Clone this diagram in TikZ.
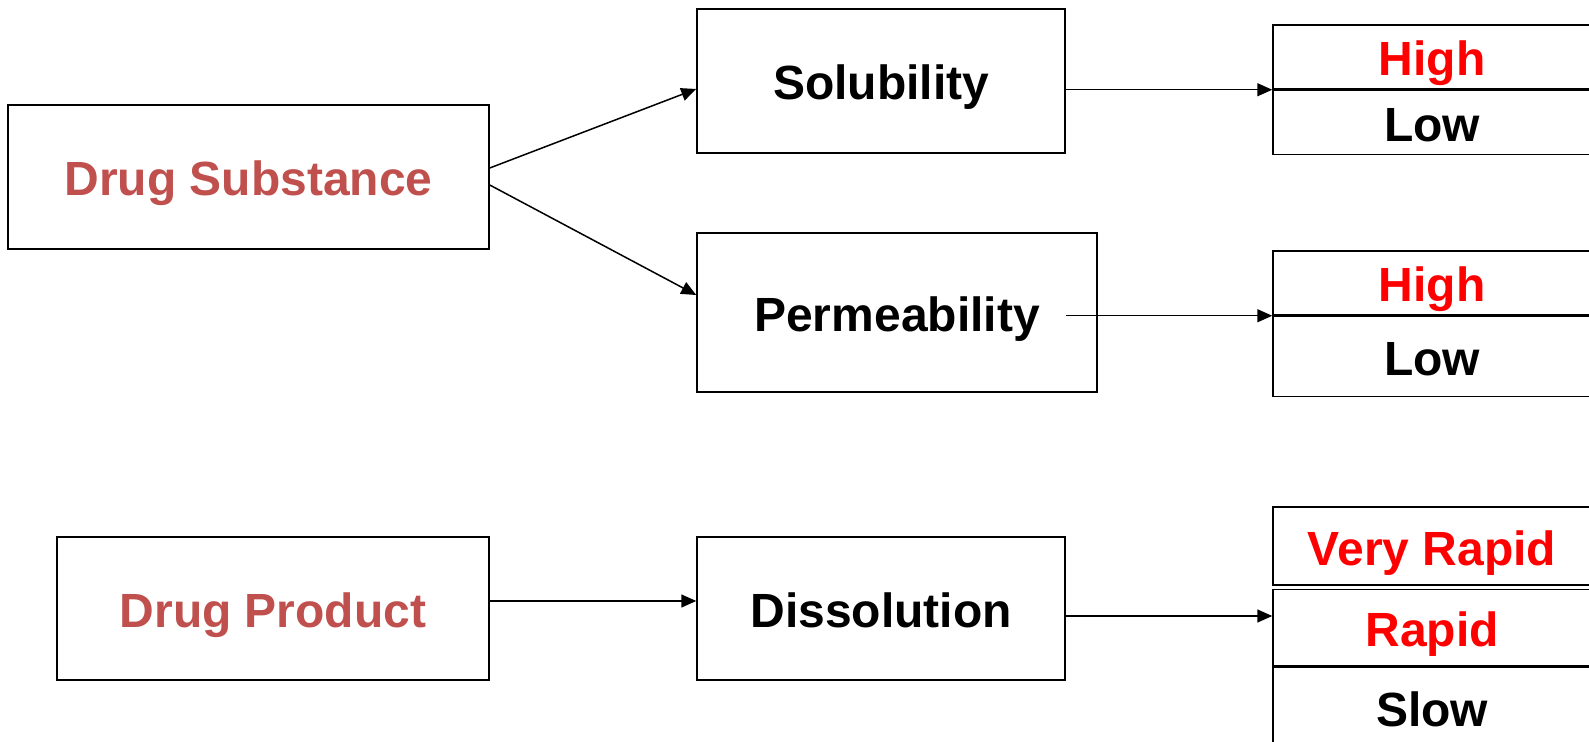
\documentclass[tikz,border=0pt]{standalone}
\usepackage{fontspec}
\setmainfont{Liberation Sans}
\usepackage{xcolor}
\usetikzlibrary{positioning}
\usetikzlibrary{arrows.meta}
\definecolor{dsred}{HTML}{C0504D}
\definecolor{hired}{HTML}{FF0000}

\begin{document}
\begin{tikzpicture}[x=0.5pt,y=-0.5pt,
  box/.style={draw,line width=0.75pt,inner sep=0pt,text height=19pt,text depth=0pt,
    font=\fontsize{24}{28}\selectfont\bfseries},
  cell/.style={box,minimum width=159pt},
  arr/.style={line width=0.75pt,-{Triangle[length=7.5pt,width=6.5pt]}}]
  % Frame
  \clip (0,0) rectangle (1589,742);

  % Left boxes
  \node[box,text=dsred,minimum width=240.5pt,minimum height=72pt] (ds) at (248.5,177) {Drug Substance};
  \node[box,text=dsred,minimum width=216pt,minimum height=71.5pt] (dp) at (273,608.5) {Drug Product};

  % Middle boxes
  \node[box,minimum width=184pt,minimum height=72pt] (sol) at (881,81) {Solubility};
  \node[box,minimum width=200pt,minimum height=79.5pt] (perm) at (897,312.5) {Permeability};
  \node[box,minimum width=184pt,minimum height=71.5pt] (dis) at (881,608.5) {Dissolution};

  % Classes
  \node[cell,text=hired,minimum height=32pt] (solhigh) at (1432,57) {High};
  \node[cell,minimum height=32pt,below=0pt of solhigh] (sollow) {Low};
  \node[cell,text=hired,minimum height=32pt] (permhigh) at (1432,283) {High};
  \node[cell,minimum height=40pt,below=0pt of permhigh] (permlow) {Low};
  \node[cell,text=hired,minimum height=39pt] (vrapid) at (1432,546) {Very Rapid};
  \node[cell,text=hired,minimum height=38pt,below=1.5pt of vrapid] (rapid) {Rapid};
  \node[cell,minimum height=40pt,below=0pt of rapid] (slow) {Slow};

  % Arrows
  \draw[arr] ([yshift=4.5pt]ds.east) -- ([yshift=-4pt]sol.west);
  \draw[arr] ([yshift=-4pt]ds.east) -- ([yshift=8.75pt]perm.west);
  \draw[arr] ([yshift=3.75pt]dp.east) -- ([yshift=3.75pt]dis.west);
  \draw[arr] (sol.east |- solhigh.south west) -- (solhigh.south west);
  \draw[arr] ([xshift=-16pt]perm.east |- permhigh.south west) -- (permhigh.south west);
  \draw[arr] ([yshift=-3.75pt]dis.east) -- ([yshift=-3.75pt]dis.east -| rapid.west);
\end{tikzpicture}
\end{document}
